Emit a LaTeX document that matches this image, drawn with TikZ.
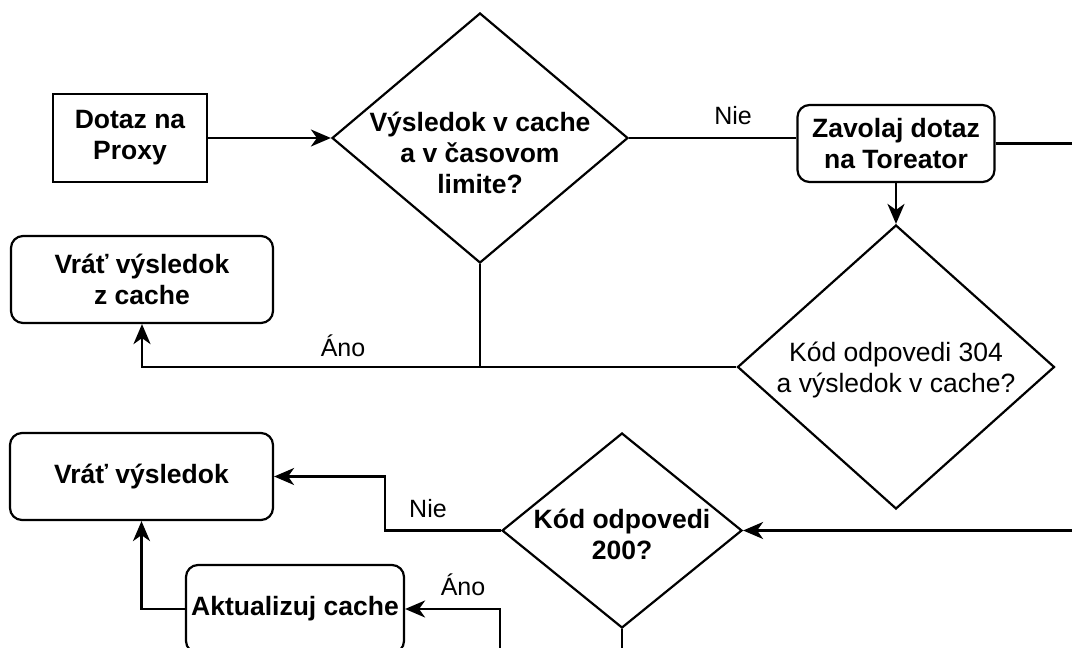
\documentclass[tikz,border=0pt]{standalone}
\usepackage{fontspec}
\setmainfont{Liberation Sans}
\usetikzlibrary{shapes.geometric,arrows.meta,calc}

\begin{document}
\begin{tikzpicture}[x=1pt,y=-1pt,
  every node/.style={font=\fontsize{26}{31}\selectfont},
  line/.style={draw, line width=2.2pt},
  arr/.style={line, -{Stealth[length=20pt,width=17pt,inset=6pt]}},
  proc/.style={draw, line width=2.2pt, rectangle, inner sep=0pt},
  rbox/.style={proc, rounded corners=12pt},
  dec/.style={draw, line width=2.2pt, diamond, inner sep=0pt},
  txt/.style={align=center, font=\fontsize{26.5}{31}\selectfont\bfseries},
  plain/.style={align=center, font=\fontsize{26.5}{31}\selectfont},
  lab/.style={font=\fontsize{25}{30}\selectfont}
]
\useasboundingbox (0,0) rectangle (1072,648);
\clip (0,0) rectangle (1072,648);

% process boxes and decisions
\node[proc, txt, minimum width=154pt, minimum height=88pt] (dp) at (130,138) {Dotaz na\\Proxy};
\node[dec, minimum width=296pt, minimum height=250pt] (d1) at (480,138) {};
\node[txt] (d1t) at (480,153) {Výsledok v cache\\a v časovom\\limite?};
\node[rbox, txt, minimum width=197pt, minimum height=77pt] (zt) at (896,143.5) {Zavolaj dotaz\\na Toreator};
\node[dec, minimum width=317pt, minimum height=284pt] (d2) at (896,367) {};
\node[plain] (d2t) at (896,370) {Kód odpovedi 304\\a výsledok v cache?};
\node[rbox, txt, minimum width=262pt, minimum height=87pt] (vc) at (142,279.5) {Vráť výsledok\\z cache};
\node[rbox, txt, minimum width=263pt, minimum height=87pt] (vr) at (141.5,476.5) {Vráť výsledok};
\node[dec, minimum width=240pt, minimum height=195pt] (d3) at (622,530.5) {};
\node[txt] (d3t) at (622,534) {Kód odpovedi\\200?};
\node[rbox, txt, minimum width=218pt, minimum height=88pt] (ak) at (295,609) {Aktualizuj cache};

% branch labels
\node[lab] (n1) at (733,116) {Nie};
\node[lab] (a1) at (343,346) {Áno};
\node[lab] (n2) at (428,509) {Nie};
\node[lab] (a2) at (463,585) {Áno};

% loose ends of connectors leaving the drawing
\coordinate (eR1) at (1090,143.5);
\coordinate (eR2) at (1090,530.5);
\coordinate (eB1) at (622,670);
\coordinate (eB2) at (500,670);

% connectors
\draw[arr] (dp) -- (d1);
\draw[line] (d1.east) -- (d1.east -| zt.west);
\draw[line] (zt.east) -- (eR1);
\draw[arr] (zt.south) -- (d2.north);
\draw[line] (d1.south) -- (d1.south |- d2.west);
\draw[arr] (d2.west) -| (vc.south);
\draw[arr] (eR2) -- (d3.east);
\draw[arr] (d3.west) -- ($(d3.west)+(-116,0)$) |- (vr.east);
\draw[line] (d3.south) -- (eB1);
\draw[arr] (eB2) |- (ak.east);
\draw[arr] (ak.west) -| (vr.south);
\end{tikzpicture}
\end{document}
